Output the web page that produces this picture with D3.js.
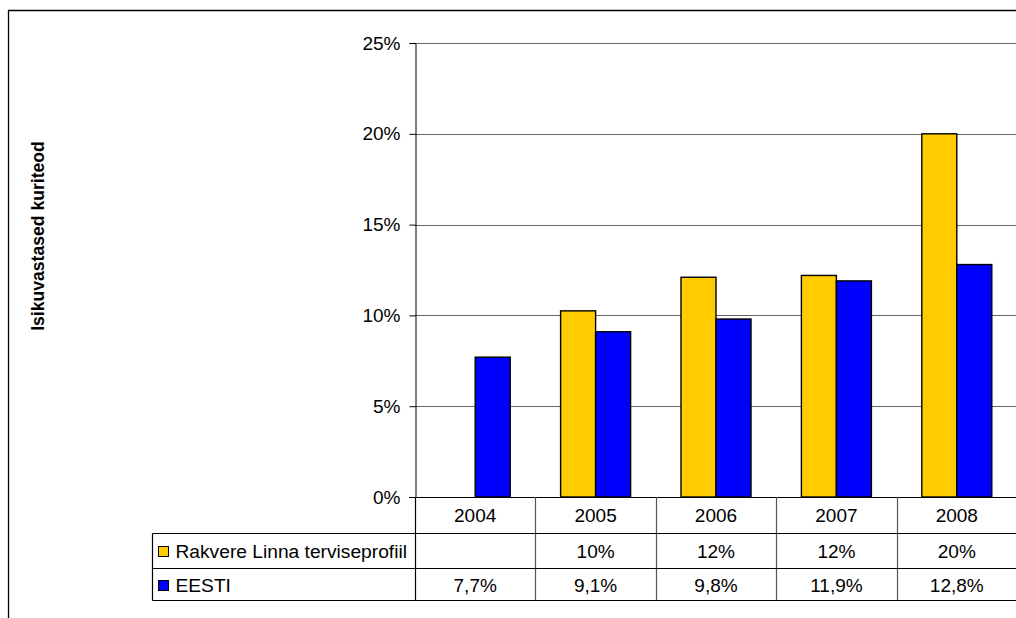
<!DOCTYPE html>
<html>
<head>
<meta charset="utf-8">
<script src="https://cdn.jsdelivr.net/npm/d3@7/dist/d3.min.js"></script>
<style>
  html, body { margin: 0; padding: 0; background: #fff; }
  svg { display: block; font-family: "Liberation Sans", Arial, sans-serif; }
</style>
</head>
<body>
<svg id="chart" width="1016" height="618"></svg>
<script>
const years = ["2004", "2005", "2006", "2007", "2008"];
const seriesNames = ["Rakvere Linna terviseprofiil", "EESTI"];
const rakvere = [null, 0.1025, 0.121, 0.122, 0.20];
const eesti = [0.077, 0.091, 0.098, 0.119, 0.128];
const rakvereLabels = ["", "10%", "12%", "12%", "20%"];
const eestiLabels = ["7,7%", "9,1%", "9,8%", "11,9%", "12,8%"];
const yTicks = [0, 0.05, 0.10, 0.15, 0.20, 0.25];
const yTickLabels = ["0%", "5%", "10%", "15%", "20%", "25%"];
const yTitle = "Isikuvastased kuriteod";
const colors = ["#FFCC00", "#0000FF"];

(function () {
const svg = d3.select("#chart");
const pLeft = 415, pRight = 1017, pTop = 43, pBottom = 497;
const fs = 19;

// outer border
svg.append("path").attr("d", `M8.5,620 V10.5 H1020`).attr("fill", "none").attr("stroke", "#000").attr("stroke-width", 1.3);

const x = d3.scaleBand().domain(years).range([pLeft, pRight]).paddingInner(0).paddingOuter(0);
const y = d3.scaleLinear().domain([0, 0.25]).range([pBottom, pTop]);
const xs = d3.scaleBand().domain(seriesNames).range([-35, 35]);

// gridlines
svg.append("g").selectAll("line").data(yTicks.slice(1)).join("line")
  .attr("x1", pLeft).attr("x2", pRight)
  .attr("y1", d => Math.round(y(d)) + 0.5).attr("y2", d => Math.round(y(d)) + 0.5)
  .attr("stroke", "#666").attr("stroke-width", 1);

// y axis
const yAxis = d3.axisLeft(y).tickValues(yTicks).tickFormat((d, i) => yTickLabels[i]).tickSize(6).tickPadding(9);
const gy = svg.append("g").attr("transform", `translate(${pLeft + 0.5},0)`).call(yAxis);
gy.select(".domain").attr("stroke", "#000");
gy.selectAll(".tick line").attr("stroke", "#000");
gy.selectAll(".tick text").attr("font-size", fs).attr("fill", "#000").attr("font-family", "Liberation Sans, Arial, sans-serif");

// bars
const data = [rakvere, eesti];
data.forEach((vals, si) => {
  svg.append("g").selectAll("rect").data(years.map((yr, i) => ({ yr, v: vals[i] })).filter(d => d.v != null)).join("rect")
    .attr("x", d => x(d.yr) + x.bandwidth() / 2 + xs(seriesNames[si]))
    .attr("width", xs.bandwidth())
    .attr("y", d => y(d.v))
    .attr("height", d => y(0) - y(d.v))
    .attr("fill", colors[si])
    .attr("stroke", "#000").attr("stroke-width", 1.4);
});

// x axis line
svg.append("line").attr("x1", pLeft - 6).attr("x2", pRight).attr("y1", pBottom + 0.5).attr("y2", pBottom + 0.5).attr("stroke", "#000").attr("stroke-width", 1.2);

// data table
const tLeft = 152.5, rowLines = [533.5, 568.5, 600.5];
const tbl = svg.append("g");
tbl.selectAll("line.v").data(years).join("line")
  .attr("x1", d => Math.round(x(d)) + 0.5).attr("x2", d => Math.round(x(d)) + 0.5)
  .attr("y1", pBottom).attr("y2", rowLines[2])
  .attr("stroke", (d, i) => i === 0 ? "#000" : "#555").attr("stroke-width", 1.2);
tbl.append("line").attr("x1", tLeft).attr("x2", tLeft).attr("y1", rowLines[0]).attr("y2", rowLines[2]).attr("stroke", "#000").attr("stroke-width", 1.2);
tbl.selectAll("line.h").data(rowLines).join("line")
  .attr("x1", tLeft).attr("x2", pRight).attr("y1", d => d).attr("y2", d => d)
  .attr("stroke", "#000").attr("stroke-width", 1.2);

tbl.selectAll("text.yr").data(years).join("text")
  .attr("x", d => x(d) + x.bandwidth() / 2).attr("y", 515).attr("dy", "0.35em")
  .attr("text-anchor", "middle").attr("font-size", fs).text(d => d);

const rowY = [551, 585];
[rakvereLabels, eestiLabels].forEach((labs, ri) => {
  tbl.append("g").selectAll("text").data(years).join("text")
    .attr("x", d => x(d) + x.bandwidth() / 2).attr("y", rowY[ri]).attr("dy", "0.35em")
    .attr("text-anchor", "middle").attr("font-size", fs).text((d, i) => labs[i]);
  tbl.append("rect").attr("x", 158.5).attr("y", rowY[ri] - 4.5).attr("width", 10).attr("height", 10)
    .attr("fill", colors[ri]).attr("stroke", "#000").attr("stroke-width", 1);
  tbl.append("text").attr("x", 175.5).attr("y", rowY[ri]).attr("dy", "0.35em")
    .attr("font-size", 19.2).text(seriesNames[ri]);
});

svg.append("text").attr("transform", `translate(44,236) rotate(-90)`)
  .attr("text-anchor", "middle").attr("font-size", 17.6).attr("font-weight", "bold").text(yTitle);
})();
</script>
</body>
</html>
